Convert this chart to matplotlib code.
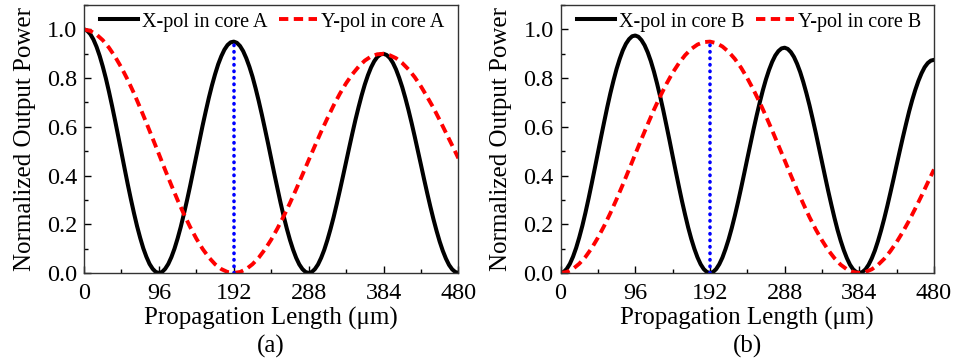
import numpy as np
import matplotlib
matplotlib.use("Agg")
import matplotlib.pyplot as plt
from matplotlib.ticker import MultipleLocator

plt.rcParams['font.family'] = ['Liberation Serif', 'DejaVu Serif']

# propagation length samples (um)
length_fine_um = np.arange(0, 481, 4)    # X-pol curves (short beat length)
length_um = np.arange(0, 481, 8)         # Y-pol curves (long beat length)

# panel (a): power remaining in core A
x_pol_core_a = [
    1.000, 0.995, 0.981, 0.959, 0.929, 0.892, 0.848, 0.799, 0.744, 0.685,
    0.623, 0.559, 0.494, 0.429, 0.365, 0.304, 0.246, 0.192, 0.144, 0.101,
    0.066, 0.037, 0.017, 0.004, 0.000, 0.004, 0.017, 0.037, 0.065, 0.100,
    0.142, 0.189, 0.242, 0.298, 0.357, 0.419, 0.481, 0.543, 0.605, 0.663,
    0.719, 0.770, 0.816, 0.857, 0.890, 0.917, 0.936, 0.947, 0.950, 0.945,
    0.932, 0.911, 0.882, 0.847, 0.806, 0.758, 0.706, 0.650, 0.591, 0.531,
    0.469, 0.407, 0.347, 0.288, 0.233, 0.182, 0.136, 0.096, 0.062, 0.035,
    0.016, 0.004, 0.000, 0.004, 0.016, 0.035, 0.062, 0.095, 0.135, 0.180,
    0.229, 0.283, 0.339, 0.397, 0.456, 0.515, 0.573, 0.629, 0.681, 0.730,
    0.774, 0.812, 0.844, 0.869, 0.887, 0.897, 0.900, 0.895, 0.883, 0.863,
    0.836, 0.802, 0.763, 0.718, 0.669, 0.616, 0.560, 0.502, 0.444, 0.385,
    0.328, 0.273, 0.221, 0.173, 0.129, 0.091, 0.059, 0.033, 0.015, 0.004,
    0.000,
]
y_pol_core_a = [
    1.000, 0.994, 0.979, 0.956, 0.925, 0.887, 0.843, 0.793, 0.738, 0.678,
    0.616, 0.552, 0.488, 0.423, 0.360, 0.299, 0.242, 0.189, 0.141, 0.099,
    0.064, 0.036, 0.016, 0.004, 0.000, 0.004, 0.016, 0.036, 0.063, 0.097,
    0.137, 0.183, 0.233, 0.287, 0.344, 0.403, 0.463, 0.522, 0.580, 0.635,
    0.688, 0.736, 0.779, 0.816, 0.847, 0.872, 0.889, 0.898, 0.900, 0.894,
    0.882, 0.862, 0.836, 0.804, 0.766, 0.723, 0.678, 0.628, 0.576, 0.524,
    0.471,
]

# panel (b): power coupled into core B
x_pol_core_b = [
    0.000, 0.004, 0.017, 0.038, 0.067, 0.103, 0.146, 0.194, 0.248, 0.306,
    0.367, 0.430, 0.494, 0.558, 0.620, 0.681, 0.738, 0.790, 0.838, 0.879,
    0.914, 0.941, 0.960, 0.972, 0.975, 0.970, 0.956, 0.935, 0.906, 0.870,
    0.827, 0.778, 0.725, 0.668, 0.607, 0.545, 0.481, 0.418, 0.356, 0.296,
    0.240, 0.187, 0.140, 0.099, 0.064, 0.036, 0.016, 0.004, 0.000, 0.004,
    0.016, 0.036, 0.063, 0.098, 0.138, 0.184, 0.235, 0.290, 0.348, 0.408,
    0.469, 0.529, 0.589, 0.646, 0.700, 0.750, 0.795, 0.834, 0.867, 0.893,
    0.911, 0.922, 0.925, 0.920, 0.907, 0.887, 0.859, 0.825, 0.784, 0.738,
    0.688, 0.633, 0.576, 0.516, 0.456, 0.396, 0.337, 0.281, 0.227, 0.177,
    0.133, 0.094, 0.061, 0.034, 0.015, 0.004, 0.000, 0.004, 0.015, 0.034,
    0.060, 0.092, 0.131, 0.175, 0.223, 0.275, 0.330, 0.386, 0.444, 0.501,
    0.557, 0.611, 0.663, 0.710, 0.752, 0.789, 0.820, 0.845, 0.862, 0.872,
    0.875,
]
y_pol_core_b = [
    0.000, 0.004, 0.017, 0.038, 0.066, 0.102, 0.145, 0.193, 0.246, 0.303,
    0.363, 0.425, 0.488, 0.550, 0.611, 0.670, 0.725, 0.776, 0.822, 0.861,
    0.894, 0.920, 0.938, 0.948, 0.950, 0.944, 0.930, 0.908, 0.879, 0.843,
    0.800, 0.752, 0.700, 0.644, 0.585, 0.524, 0.463, 0.401, 0.341, 0.284,
    0.229, 0.179, 0.134, 0.094, 0.061, 0.034, 0.015, 0.004, 0.000, 0.004,
    0.015, 0.033, 0.058, 0.090, 0.127, 0.169, 0.215, 0.265, 0.317, 0.371,
    0.425,
]

# coupling length marker
coupling_length = 192
marker_top_a = 0.95
marker_top_b = 0.95

x_ticks = [0, 96, 192, 288, 384, 480]
y_ticks = [0.0, 0.2, 0.4, 0.6, 0.8, 1.0]

panels = [
    dict(x=x_pol_core_a, y=y_pol_core_a, top=marker_top_a,
         labels=("X-pol in core A", "Y-pol in core A"), tag="(a)",
         rect=[0.088, 0.248, 0.392, 0.738]),
    dict(x=x_pol_core_b, y=y_pol_core_b, top=marker_top_b,
         labels=("X-pol in core B", "Y-pol in core B"), tag="(b)",
         rect=[0.587, 0.248, 0.391, 0.738]),
]

fig = plt.figure(figsize=(9.55, 3.63), dpi=100)

for p in panels:
    ax = fig.add_axes(p["rect"])
    ax.plot(length_fine_um, p["x"], color="black", lw=2.9,
            solid_joinstyle="round", label=p["labels"][0])
    ax.plot(length_um, p["y"], color="#ff0000", lw=2.8, dashes=(2.4, 1.4),
            label=p["labels"][1])
    ax.plot([coupling_length, coupling_length], [0, p["top"]], color="#0000ff",
            lw=2.6, dashes=(0.1, 1.7), dash_capstyle="round")

    ax.set_xlim(0, 480)
    ax.set_ylim(0, 1.1)
    ax.set_xticks(x_ticks)
    ax.set_yticks(y_ticks)
    ax.set_yticklabels([f"{v:.1f}" for v in y_ticks])
    ax.xaxis.set_minor_locator(MultipleLocator(48))
    ax.yaxis.set_minor_locator(MultipleLocator(0.1))
    ax.tick_params(which="both", direction="in", top=False, right=False,
                   labelsize=17.5, width=1)
    ax.tick_params(which="major", length=5)
    ax.tick_params(which="minor", length=3)
    ax.tick_params(axis="x", pad=7)
    ax.tick_params(axis="y", pad=5)
    for s in ax.spines.values():
        s.set_linewidth(1.0)
        s.set_color("#333333")

    ax.set_xlabel("Propagation Length (\u03bcm)", fontsize=18, labelpad=2)
    ax.set_ylabel("Normalized Output Power", fontsize=18, labelpad=8)

    ax.legend(loc="center left", bbox_to_anchor=(0.043, 0.937), frameon=False,
              ncol=2, fontsize=14.5, handlelength=1.9, handletextpad=0.2,
              columnspacing=0.55, borderpad=0, borderaxespad=0)

    r = p["rect"]
    fig.text(r[0] + r[2] / 2, 0.045, p["tag"], ha="center", va="center",
             fontsize=18)

fig.savefig("out.png", dpi=100)
